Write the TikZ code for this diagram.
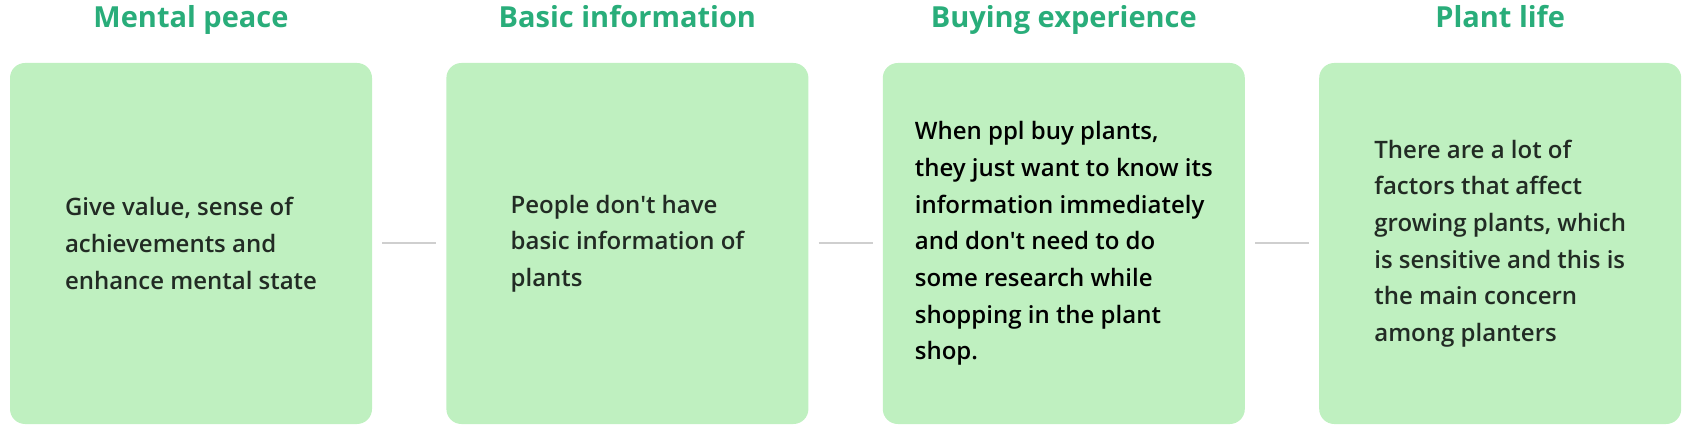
\documentclass[tikz,border=0pt]{standalone}
\usepackage{fontspec}
\setmainfont{Open Sans}
\newfontfamily\bodyfont{Open Sans Semibold}
\usepackage{xcolor}
\usetikzlibrary{positioning}

\definecolor{leafgreen}{HTML}{BFF0C0}
\definecolor{titlegreen}{HTML}{29AD7A}
\definecolor{darktext}{HTML}{222B24}
\definecolor{linegray}{HTML}{CFCFCF}

\begin{document}
\begin{tikzpicture}[x=1pt, y=1pt, node distance=74pt, card/.style={rectangle, fill=leafgreen, minimum width=362pt, minimum height=361pt, rounded corners=15pt, inner sep=0pt}, heading/.style={font=\fontsize{29}{35}\selectfont\bfseries, text=titlegreen, inner sep=0pt}, note/.style={font=\bodyfont\fontsize{24}{36.7}\selectfont, text=darktext, align=left, inner sep=0pt}, link/.style={draw=linegray, line width=2pt, shorten >=10pt, shorten <=10pt}]

    \useasboundingbox (0,0) rectangle (1688,-435);

    % Nodes
    \node[card]    (peace)                         at (191,-243.5) {};
    \node[card]    (basic)     [right=of peace]    {};
    \node[card]    (buying)    [right=of basic]    {};
    \node[card]    (life)      [right=of buying]   {};

    \node[heading, above=35pt of peace, anchor=base]   (peacetitle)   {Mental peace};
    \node[heading, above=35pt of basic, anchor=base]   (basictitle)   {Basic information};
    \node[heading, above=35pt of buying, anchor=base]  (buyingtitle)  {Buying experience};
    \node[heading, above=35pt of life, anchor=base]    (lifetitle)    {Plant life};

    \node[note]                at (peace)      (peacetext)  {Give value, sense of\\achievements and\\enhance mental state};
    \node[note]                at (basic)      (basictext)  {People don't have\\basic information of\\plants};
    \node[note, text=black]    at (buying)     (buyingtext) {When ppl buy plants,\\they just want to know its\\information immediately\\and don't need to do\\some research while\\shopping in the plant\\shop.};
    \node[note]                at (life)       (lifetext)   {There are a lot of\\factors that affect\\growing plants, which\\is sensitive and this is\\the main concern\\among planters};

    % Lines ---------------
    \draw[link] (peace) -- (basic);
    \draw[link] (basic) -- (buying);
    \draw[link] (buying) -- (life);

\end{tikzpicture}
\end{document}
